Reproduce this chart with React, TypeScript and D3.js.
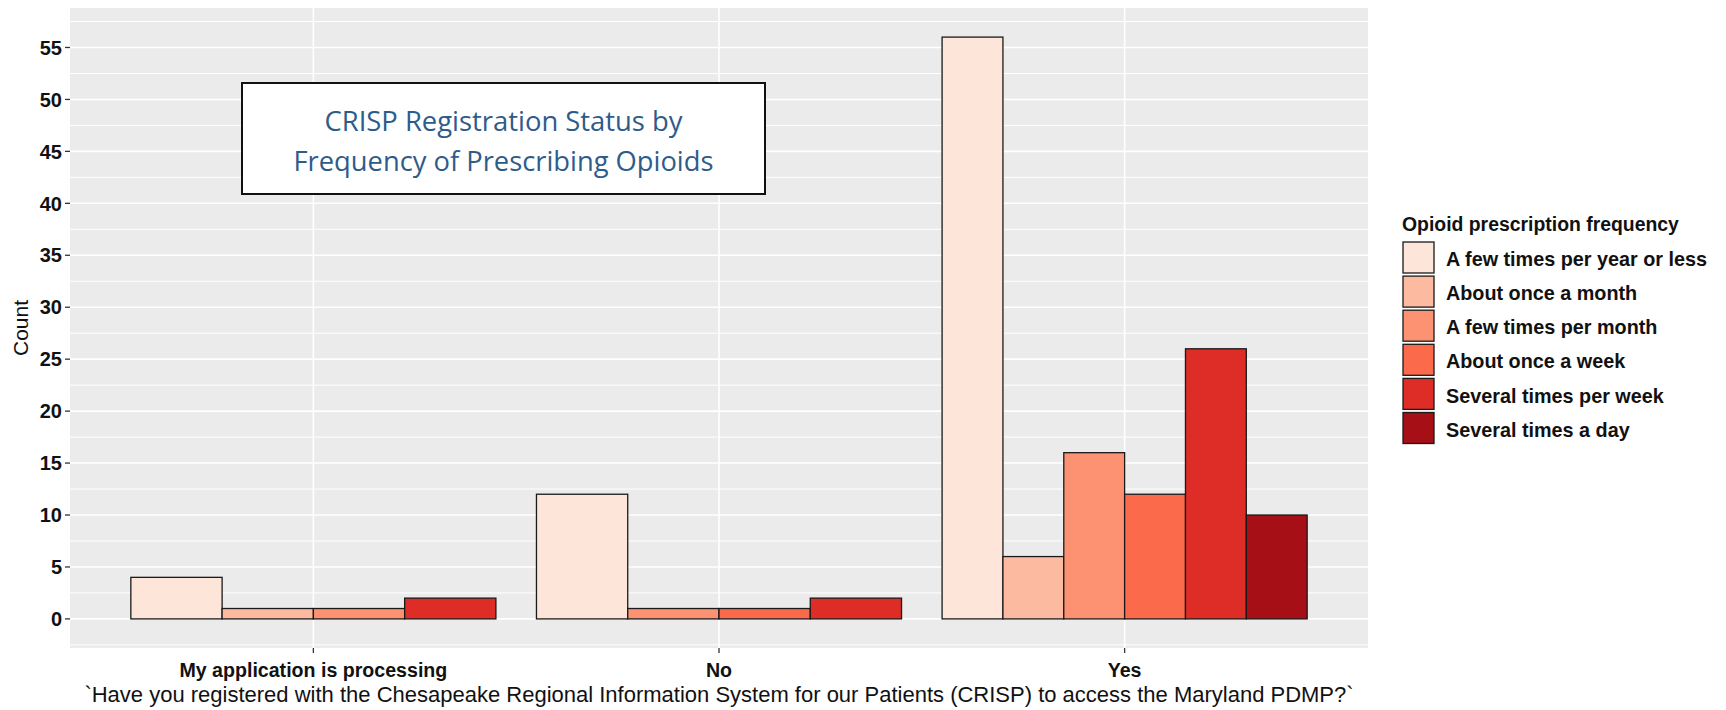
import React from "react";
import * as d3 from "d3";

const categories = ["My application is processing", "No", "Yes"];
const seriesNames = [
  "A few times per year or less",
  "About once a month",
  "A few times per month",
  "About once a week",
  "Several times per week",
  "Several times a day",
];
const seriesColors = ["#FEE5D9", "#FCBBA1", "#FC9272", "#FB6A4A", "#DE2D26", "#A50F15"];
const fewPerYear = [4, 12, 56];
const oncePerMonth = [1, null, 6];
const fewPerMonth = [1, 1, 16];
const oncePerWeek = [null, 1, 12];
const severalPerWeek = [2, 2, 26];
const severalPerDay = [null, null, 10];
const yTicks = [0, 5, 10, 15, 20, 25, 30, 35, 40, 45, 50, 55];
const titleLines = ["CRISP Registration Status by", "Frequency of Prescribing Opioids"];
const xTitle =
  "`Have you registered with the Chesapeake Regional Information System for our Patients (CRISP) to access the Maryland PDMP?`";
const yTitle = "Count";
const legendTitle = "Opioid prescription frequency";

const seriesValues = [fewPerYear, oncePerMonth, fewPerMonth, oncePerWeek, severalPerWeek, severalPerDay];

export default function App() {
  const W = 1726, H = 710;
  const left = 70, right = 1368, top = 8, bottom = 648;
  const x = d3.scaleLinear().domain([0.4, 3.6]).range([left, right]);
  const y = d3.scaleLinear().domain([-2.8, 58.8]).range([bottom, top]);
  const minor = d3.range(-2.5, 59, 5).filter((v) => v > -2.8 && v < 58.8);

  const bars: any[] = [];
  categories.forEach((c, ci) => {
    const present = seriesValues
      .map((s, si) => ({ si, v: s[ci] }))
      .filter((d) => d.v !== null && d.v !== undefined);
    const n = present.length;
    const w = 0.9 / n;
    present.forEach((d, k) => {
      const x0 = ci + 1 - 0.45 + k * w;
      bars.push({ key: `${ci}-${d.si}`, x0: x(x0), x1: x(x0 + w), y0: y(0), y1: y(d.v as number), fill: seriesColors[d.si] });
    });
  });

  const font = "'Liberation Sans', Arial, sans-serif";
  const boxL = 242, boxT = 83, boxR = 765, boxB = 194;
  const titleWidths = [358, 420];

  return (
    <svg width={W} height={H} style={{ position: "absolute", left: 0, top: 0, display: "block", background: "#fff" }}>
      <rect x={left} y={top} width={right - left} height={bottom - top} fill="#EBEBEB" />
      {minor.map((v) => (
        <line key={"mn" + v} x1={left} x2={right} y1={y(v)} y2={y(v)} stroke="#fff" strokeWidth={1} />
      ))}
      {yTicks.map((v) => (
        <line key={"mj" + v} x1={left} x2={right} y1={y(v)} y2={y(v)} stroke="#fff" strokeWidth={1.6} />
      ))}
      {categories.map((c, i) => (
        <line key={"vx" + i} x1={x(i + 1)} x2={x(i + 1)} y1={top} y2={bottom} stroke="#fff" strokeWidth={1.6} />
      ))}
      {bars.map((b) => (
        <rect key={b.key} x={b.x0} y={b.y1} width={b.x1 - b.x0} height={b.y0 - b.y1} fill={b.fill} stroke="#1a1a1a" strokeWidth={1.3} />
      ))}
      {/* y axis */}
      {yTicks.map((v) => (
        <g key={"yt" + v}>
          <line x1={left - 5} x2={left} y1={y(v)} y2={y(v)} stroke="#333" strokeWidth={1.3} />
          <text x={left - 8} y={y(v)} dy="0.36em" textAnchor="end" fontFamily={font} fontWeight="bold" fontSize={20} fill="#111">
            {v}
          </text>
        </g>
      ))}
      <text transform={`translate(28,${(top + bottom) / 2}) rotate(-90)`} textAnchor="middle" fontFamily={font} fontSize={21} fill="#111">
        {yTitle}
      </text>
      {/* x axis */}
      {categories.map((c, i) => (
        <g key={"xt" + i}>
          <line x1={x(i + 1)} x2={x(i + 1)} y1={bottom} y2={bottom + 5} stroke="#333" strokeWidth={1.3} />
          <text x={x(i + 1)} y={677} textAnchor="middle" fontFamily={font} fontWeight="bold" fontSize={19.6} fill="#111">
            {c}
          </text>
        </g>
      ))}
      <text x={(left + right) / 2} y={702} textAnchor="middle" fontFamily={font} fontSize={22} fill="#111">
        {xTitle}
      </text>
      {/* title box */}
      <rect x={boxL} y={boxT} width={boxR - boxL} height={boxB - boxT} fill="#fff" stroke="#111" strokeWidth={2} />
      {titleLines.map((t, i) => (
        <text
          key={"tl" + i}
          x={(boxL + boxR) / 2 - titleWidths[i] / 2}
          y={131 + i * 40}
          textLength={titleWidths[i]}
          lengthAdjust="spacingAndGlyphs"
          fontFamily="'Open Sans', sans-serif"
          fontSize={28}
          fill="#2E5C8A"
        >
          {t}
        </text>
      ))}
      {/* legend */}
      <text x={1402} y={231} fontFamily={font} fontWeight="bold" fontSize={19.4} fill="#111">
        {legendTitle}
      </text>
      {seriesNames.map((s, i) => {
        const ky = 242 + i * 34.1;
        return (
          <g key={"lg" + i}>
            <rect x={1403} y={ky} width={31} height={31} fill={seriesColors[i]} stroke="#1a1a1a" strokeWidth={1.3} />
            <text x={1446} y={ky + 17} dy="0.36em" fontFamily={font} fontWeight="bold" fontSize={19.8} fill="#111">
              {s}
            </text>
          </g>
        );
      })}
    </svg>
  );
}
